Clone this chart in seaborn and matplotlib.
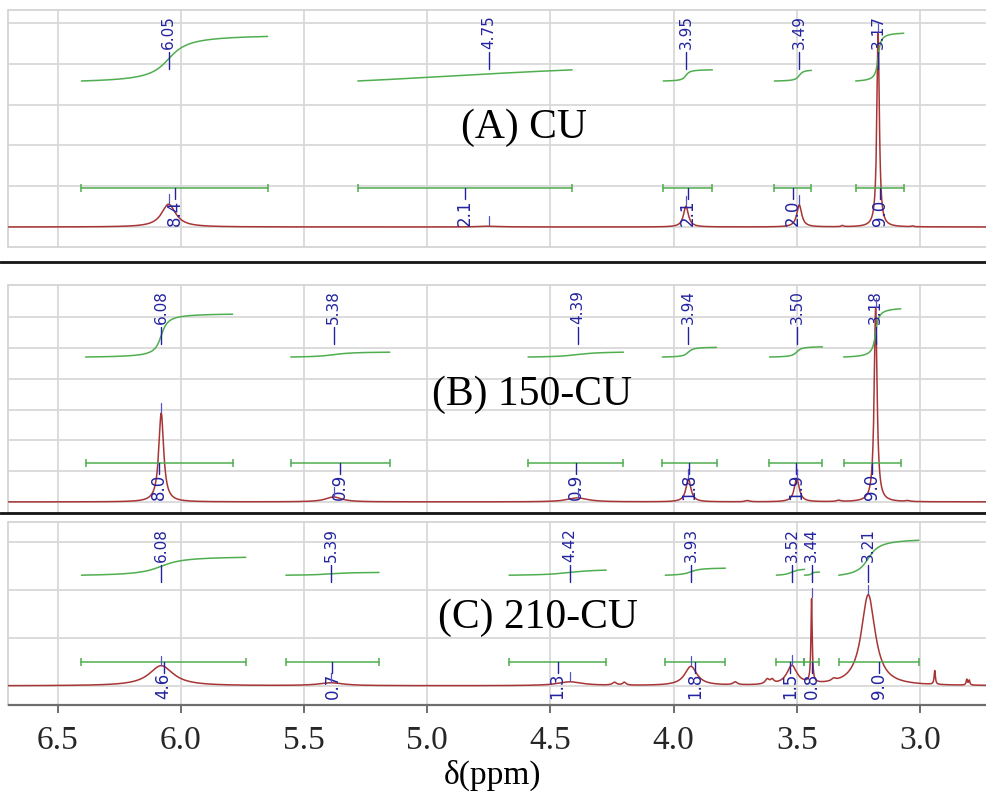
import numpy as np
import pandas as pd
import matplotlib
matplotlib.use("Agg")
import matplotlib.pyplot as plt
import seaborn as sns
from matplotlib.lines import Line2D

# ---------------- data ----------------
# Panel A: CU
a_peak_ppm = [6.05, 4.75, 3.95, 3.49, 3.315, 3.17, 3.03]
a_peak_height = [0.56, 0.02, 0.51, 0.54, 0.03, 4.75, 0.02]
a_peak_hwhm = [0.035, 0.05, 0.012, 0.012, 0.005, 0.006, 0.005]
a_label_ppm = [6.05, 4.75, 3.95, 3.49, 3.17]
a_label_text = ["6.05", "4.75", "3.95", "3.49", "3.17"]
a_int_start = [6.404, 5.282, 4.042, 3.591, 3.261]
a_int_end = [5.648, 4.412, 3.843, 3.441, 3.066]
a_int_value = [8.4, 2.1, 2.1, 2.0, 9.0]
a_int_text = ["8.4", "2.1", "2.1", "2.0", "9.0"]
a_int_center = [6.05, 4.90, 3.95, 3.49, 3.17]
a_int_shape = [0.06, 0.8, 0.012, 0.012, 0.008]

# Panel B: 150-CU
b_peak_ppm = [6.08, 5.38, 4.39, 3.94, 3.70, 3.50, 3.33, 3.18, 3.05]
b_peak_height = [2.89, 0.16, 0.13, 0.75, 0.04, 0.75, 0.04, 6.3, 0.03]
b_peak_hwhm = [0.012, 0.04, 0.05, 0.012, 0.01, 0.012, 0.01, 0.007, 0.01]
b_label_ppm = [6.08, 5.38, 4.39, 3.94, 3.50, 3.18]
b_label_text = ["6.08", "5.38", "4.39", "3.94", "3.50", "3.18"]
b_int_start = [6.387, 5.554, 4.591, 4.046, 3.611, 3.310]
b_int_end = [5.790, 5.152, 4.204, 3.826, 3.396, 3.078]
b_int_value = [8.0, 0.9, 0.9, 1.8, 1.9, 9.0]
b_int_text = ["8.0", "0.9", "0.9", "1.8", "1.9", "9.0"]
b_int_center = [6.08, 5.38, 4.39, 3.94, 3.50, 3.18]
b_int_shape = [0.02, 0.06, 0.07, 0.015, 0.015, 0.01]

# Panel C: 210-CU
c_peak_ppm = [6.08, 5.39, 4.42, 4.24, 4.20, 3.93, 3.75, 3.62, 3.60,
              3.52, 3.44, 3.35, 3.21, 2.94, 2.81, 2.80]
c_peak_height = [0.42, 0.06, 0.08, 0.06, 0.06, 0.40, 0.06, 0.10, 0.08,
                 0.40, 1.75, 0.05, 1.90, 0.29, 0.12, 0.10]
c_peak_hwhm = [0.06, 0.06, 0.06, 0.01, 0.008, 0.03, 0.01, 0.01, 0.008,
               0.025, 0.003, 0.01, 0.034, 0.003, 0.003, 0.003]
c_label_ppm = [6.08, 5.39, 4.42, 3.93, 3.52, 3.44, 3.21]
c_label_text = ["6.08", "5.39", "4.42", "3.93", "3.52", "3.44", "3.21"]
c_int_start = [6.404, 5.574, 4.668, 4.034, 3.583, 3.469, 3.330]
c_int_end = [5.737, 5.196, 4.274, 3.790, 3.469, 3.408, 3.005]
c_int_value = [4.6, 0.7, 1.3, 1.8, 1.5, 0.8, 9.0]
c_int_text = ["4.6", "0.7", "1.3", "1.8", "1.5", "0.8", "9.0"]
c_int_center = [6.08, 5.39, 4.42, 3.93, 3.52, 3.44, 3.21]
c_int_shape = [0.07, 0.07, 0.08, 0.03, 0.025, 0.006, 0.035]

panel_titles = ["(A) CU", "(B) 150-CU", "(C) 210-CU"]
x_ticks = [6.5, 6.0, 5.5, 5.0, 4.5, 4.0, 3.5, 3.0]
x_label = "δ(ppm)"

# ---------------- style ----------------
sns.set_theme(style="white")
plt.rcParams["font.family"] = ["DejaVu Sans"]

W, H = 987, 796
fig = plt.figure(figsize=(W / 100, H / 100), dpi=100)

RED = "#a83535"
GREEN = "#4fae4f"
BLUE = "#2323a0"
GRID = "#d9d9d9"
SERIF = "Liberation Serif"

XMAX, XMIN = 6.70, 2.72
xs = np.linspace(XMIN, XMAX, 6000)


def spectrum(x, ppm, h, w):
    y = np.zeros_like(x)
    for p, hh, ww in zip(ppm, h, w):
        y += hh * ww ** 2 / ((x - p) ** 2 + ww ** 2)
    return y


panels = [
    dict(rect_px=(10, 247), ylim=(-0.49, 5.32), ngrid=5, bar=0.95, ibase=3.58,
         rise=0.13, ltop=5.2, title_px=(524, 138),
         peaks=(a_peak_ppm, a_peak_height, a_peak_hwhm),
         labels=(a_label_ppm, a_label_text),
         ints=(a_int_start, a_int_end, a_int_value, a_int_text, a_int_center, a_int_shape)),
    dict(rect_px=(285, 513), ylim=(-0.36, 7.05), ngrid=6, bar=1.27, ibase=4.71,
         rise=0.174, ltop=6.88, title_px=(532, 405),
         peaks=(b_peak_ppm, b_peak_height, b_peak_hwhm),
         labels=(b_label_ppm, b_label_text),
         ints=(b_int_start, b_int_end, b_int_value, b_int_text, b_int_center, b_int_shape)),
    dict(rect_px=(522, 705), ylim=(-0.40, 3.42), ngrid=3, bar=0.5, ibase=2.31,
         rise=0.081, ltop=3.29, title_px=(538, 628),
         peaks=(c_peak_ppm, c_peak_height, c_peak_hwhm),
         labels=(c_label_ppm, c_label_text),
         ints=(c_int_start, c_int_end, c_int_value, c_int_text, c_int_center, c_int_shape)),
]

left = 8.5 / W
for i, P in enumerate(panels):
    top_px, bot_px = P["rect_px"]
    ax = fig.add_axes([left, 1 - bot_px / H, 1.0 - left + 0.002, (bot_px - top_px) / H])
    y0, y1 = P["ylim"]
    ppu = (bot_px - top_px) / (y1 - y0)  # pixels per data unit

    def u(px):
        return px / ppu

    ax.set_xlim(XMAX, XMIN)
    ax.set_ylim(y0, y1)
    ax.set_yticks(range(0, P["ngrid"] + 1))
    ax.set_xticks(x_ticks)
    ax.grid(True, color=GRID, lw=1.3)
    ax.set_axisbelow(True)
    for s in ax.spines.values():
        s.set_color("#d4d4d4")
        s.set_linewidth(1.3)
    ax.tick_params(axis="y", length=0, labelleft=False)

    # spectrum
    ppm, hh, ww = P["peaks"]
    ys = spectrum(xs, ppm, hh, ww)
    df = pd.DataFrame({"ppm": xs, "I": ys})
    sns.lineplot(data=df, x="ppm", y="I", ax=ax, color=RED, lw=1.1, sort=False,
                 estimator=None, zorder=3)

    # integration bars, curves and values
    st, en, val, txt, cen, shp = P["ints"]
    for s_, e_, v_, t_, c_, w_ in zip(st, en, val, txt, cen, shp):
        xi = np.linspace(e_, s_, 300)
        a0 = np.arctan((c_ - s_) / w_)
        a1 = np.arctan((c_ - e_) / w_)
        frac = (np.arctan((c_ - xi) / w_) - a0) / (a1 - a0)
        yi = P["ibase"] + frac * v_ * P["rise"]
        sns.lineplot(x=xi, y=yi, ax=ax, color=GREEN, lw=1.1, sort=False,
                     estimator=None, zorder=4)
        ax.plot([s_, e_], [P["bar"], P["bar"]], color=GREEN, lw=1.1,
                marker="|", markersize=6, markeredgewidth=1.1, zorder=4)
        mid = (s_ + e_) / 2
        ax.plot([mid, mid], [P["bar"], P["bar"] - u(11)], color=BLUE, lw=1.0, zorder=5)
        ax.text(mid, P["bar"] - u(11), t_, rotation=90, ha="center", va="top",
                fontsize=12, color=BLUE, zorder=5)

    # peak (ppm) labels
    lp, lt = P["labels"]
    for p_, t_ in zip(lp, lt):
        ax.text(p_, P["ltop"], t_, rotation=90, ha="center", va="top",
                fontsize=11, color=BLUE, zorder=5)
        ytxt_bot = P["ltop"] - u(37)
        ax.plot([p_, p_], [ytxt_bot, ytxt_bot - u(17)], color=BLUE, lw=1.0, zorder=5)
        ypk = spectrum(np.array([p_]), ppm, hh, ww)[0]
        ax.plot([p_, p_], [ypk + u(1), ypk + u(10)], color="#5555c8", lw=0.9, zorder=5)

    if i < 2:
        ax.tick_params(axis="x", length=0, labelbottom=False)
        ax.set_xlabel("")
    else:
        ax.spines["bottom"].set_color("#6e6e6e")
        ax.spines["bottom"].set_linewidth(1.6)
        ax.set_xticklabels([f"{t:.1f}" for t in x_ticks], fontfamily=SERIF, fontsize=24)
        ax.tick_params(axis="x", length=6, width=1.2, color="#555555", direction="out",
                       pad=9, bottom=True)
        ax.set_xlabel("")
    ax.set_ylabel("")

    tx, ty = P["title_px"]
    fig.text(tx / W, 1 - ty / H, panel_titles[i], ha="center", va="baseline",
             fontfamily=SERIF, fontsize=30, color="black")

# separators
for ypx in (262, 513):
    fig.add_artist(Line2D([0, 1], [1 - ypx / H, 1 - ypx / H], color="#151515", lw=2.0,
                          transform=fig.transFigure))

fig.text(493 / W, 1 - 775 / H, x_label, ha="center", va="center",
         fontfamily=SERIF, fontsize=24, color="black")

fig.savefig("out.png", dpi=100)
